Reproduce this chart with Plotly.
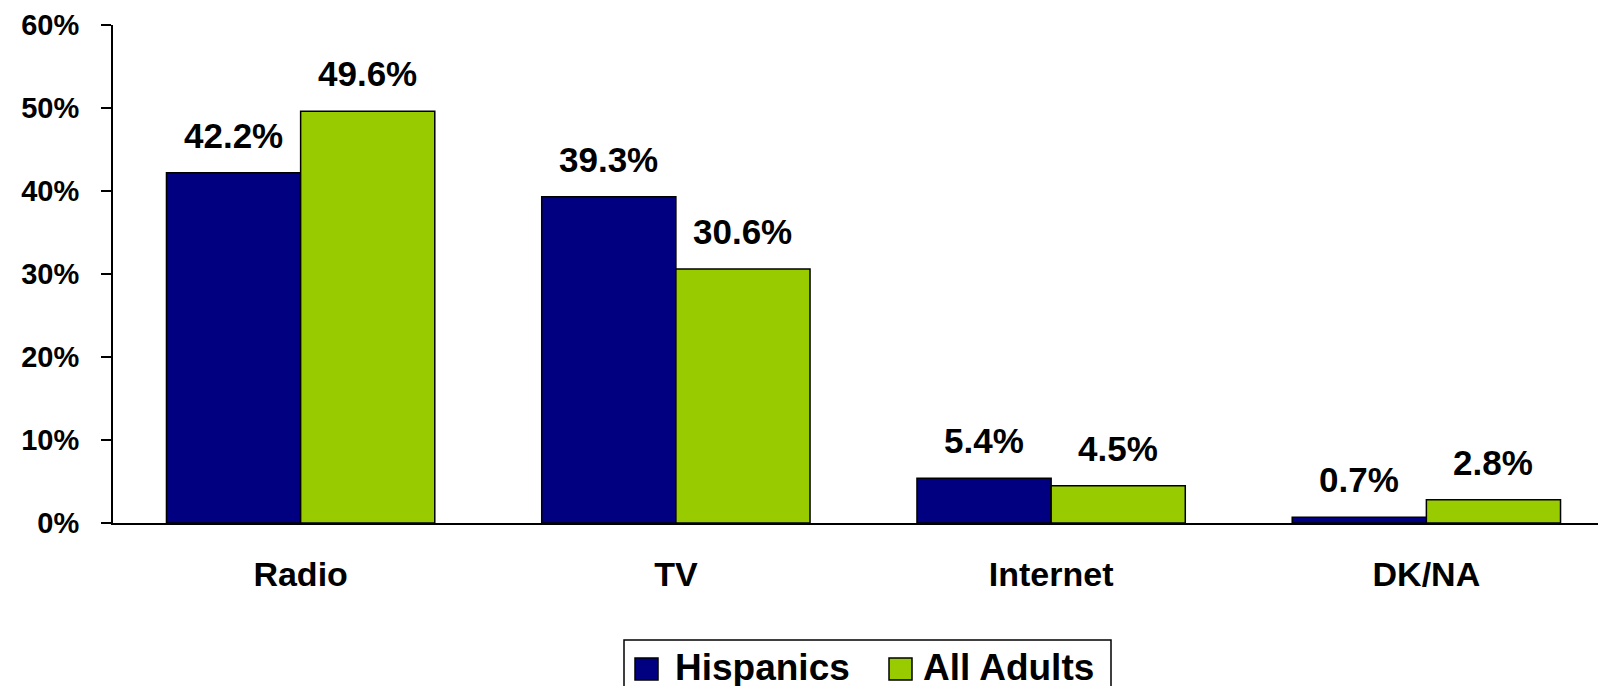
import plotly.graph_objects as go

categories = ["Radio", "TV", "Internet", "DK/NA"]
hispanics = [42.2, 39.3, 5.4, 0.7]
all_adults = [49.6, 30.6, 4.5, 2.8]
series_names = ["Hispanics", "All Adults"]
y_ticks = [0, 10, 20, 30, 40, 50, 60]

NAVY = "#000080"
GREEN = "#99CC00"
FONT = "Liberation Sans, Arial, sans-serif"

W, H = 1606, 686
L, R, T, B = 105, 0, 17, 171
PW, PH = W - L - R, H - T - B


def px(x):
    return (x - L) / PW


def py(y):
    return (H - B - y) / PH


fig = go.Figure()
colors = [NAVY, GREEN]
for name, vals, col in zip(series_names, [hispanics, all_adults], colors):
    fig.add_trace(go.Bar(
        x=categories, y=vals, name=name, showlegend=False,
        marker=dict(color=col, line=dict(color="black", width=1.5)),
    ))

# data labels
for vals, shift in [(hispanics, -67), (all_adults, 67)]:
    for c, v in zip(categories, vals):
        fig.add_annotation(x=c, y=v, text=f"{v:.1f}%", showarrow=False,
                           xshift=shift, yshift=16, yanchor="bottom",
                           font=dict(family=FONT, size=35, color="black", weight="bold"))

# legend box (bottom edge lies below the visible page in the reference)
x0, x1, y0, y1 = px(616), px(1103), py(632), py(686)
fig.add_shape(type="path", xref="paper", yref="paper",
              path=f"M {x0},{y1} L {x0},{y0} L {x1},{y0} L {x1},{y1}",
              line=dict(color="black", width=1.5))
legend_items = [(series_names[0], NAVY, 627, 665), (series_names[1], GREEN, 881, 913)]
for name, col, sx, tx in legend_items:
    fig.add_shape(type="rect", xref="paper", yref="paper",
                  x0=px(sx), x1=px(sx + 23), y0=py(650), y1=py(672),
                  line=dict(color="black", width=1.5), fillcolor=col)
    fig.add_annotation(xref="paper", yref="paper", x=px(tx), y=py(659),
                       text=name, showarrow=False, xanchor="left", yanchor="middle",
                       font=dict(family=FONT, size=37, color="black", weight="bold"))

fig.update_layout(
    width=W, height=H,
    margin=dict(l=L, r=R, t=T, b=B),
    paper_bgcolor="white", plot_bgcolor="white",
    barmode="group", bargap=0.285, bargroupgap=0,
    font=dict(family=FONT, color="black"),
    showlegend=False,
    xaxis=dict(showline=True, linecolor="black", linewidth=2, ticks="",
               tickfont=dict(family=FONT, size=34, color="black", weight="bold"),
               showgrid=False, ticklabelstandoff=20),
    yaxis=dict(range=[0, 60], tickvals=y_ticks, ticktext=[f"{t}%" for t in y_ticks],
               showline=True, linecolor="black", linewidth=2, ticks="outside",
               ticklen=10, tickwidth=2, tickcolor="black", showgrid=False, zeroline=False,
               ticklabelstandoff=16,
               tickfont=dict(family=FONT, size=29, color="black", weight="bold")),
)
fig.write_html("out.html")
